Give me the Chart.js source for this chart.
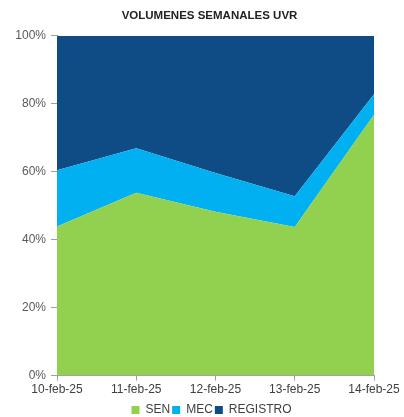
<!DOCTYPE html>
<html><head><meta charset="utf-8">
<script src="https://cdn.jsdelivr.net/npm/chart.js@4"></script>
<style>html,body{margin:0;padding:0;background:#fff}#wrap{width:404px;height:417px}</style>
</head><body><div id="wrap"><canvas id="c" width="404" height="417"></canvas></div>
<script>
const categories = ['10-feb-25','11-feb-25','12-feb-25','13-feb-25','14-feb-25'];
const sen = [43.9, 53.8, 48.2, 43.7, 76.8];
const mec = [16.5, 13.1, 11.4, 9.1, 6.0];
const registro = [39.6, 33.1, 40.4, 47.2, 17.2];
const yTicks = [0, 20, 40, 60, 80, 100];

const font = "'Liberation Sans', Arial, sans-serif";
const nudge = {
  id:'nudge',
  afterLayout(chart){
    const t = chart.titleBlock; if (t){ t.left -= 6; t.right -= 6; }
    const l = chart.legend; if (l){ l.left -= 4; l.right -= 4; l.top += 3; l.bottom += 3; }
  }
};
new Chart(document.getElementById('c'), {
  type: 'line',
  data: {
    labels: categories,
    datasets: [
      {label:'SEN', data: sen, backgroundColor:'#92D050', borderColor:'#92D050', fill:'origin'},
      {label:'MEC', data: mec, backgroundColor:'#00B0F0', borderColor:'#00B0F0', fill:'-1'},
      {label:'REGISTRO', data: registro, backgroundColor:'#0F4C86', borderColor:'#0F4C86', fill:'-1'}
    ]
  },
  plugins:[nudge],
  options: {
    responsive:false, animation:false,
    elements:{point:{radius:0}, line:{borderWidth:0, tension:0}},
    layout:{padding:{left:0, right:30, top:0, bottom:-6}},
    plugins:{
      title:{display:true, fullSize:false, text:'VOLUMENES SEMANALES UVR', color:'#222', font:{family:"'Liberation Sans Narrow', 'Liberation Sans', Arial, sans-serif", size:11.5, weight:'bold'}, padding:{top:9, bottom:13}},
      legend:{position:'bottom', fullSize:false, labels:{boxWidth:8, boxHeight:8, padding:2, color:'#404040', font:{family:font, size:12}}},
      tooltip:{enabled:false}
    },
    scales:{
      x:{offset:false, grid:{drawOnChartArea:false, drawTicks:true, tickLength:5, color:'#a0a0a0'}, border:{color:'#a0a0a0'},
         ticks:{color:'#404040', maxRotation:0, autoSkip:false, padding:2, font:{family:font, size:12}}},
      y:{stacked:true, min:0, max:100, afterBuildTicks:(a)=>{a.ticks = yTicks.map(v=>({value:v}));},
         afterFit:(a)=>{a.width = 57;},
         grid:{drawOnChartArea:false, drawTicks:true, tickLength:6, color:'#a0a0a0'}, border:{color:'#a0a0a0'},
         ticks:{color:'#595959', padding:5, callback:v=>v+'%', font:{family:font, size:12}}}
    }
  }
});
</script></body></html>
